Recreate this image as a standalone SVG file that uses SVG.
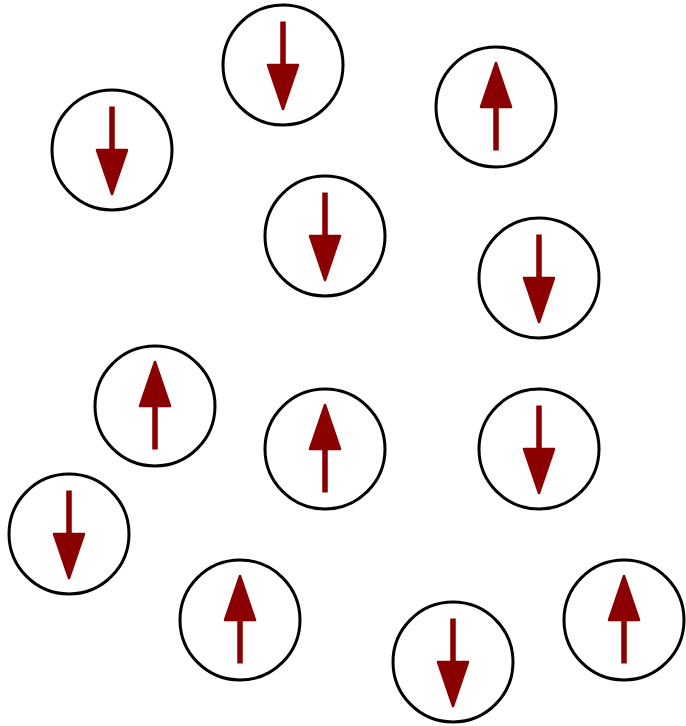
<svg xmlns="http://www.w3.org/2000/svg" xmlns:xlink="http://www.w3.org/1999/xlink" width="686" height="726" viewBox="0 0 686 726">
<style>
.c{fill:#fff;stroke:#000;stroke-width:3}
.a{fill:#8b0000;stroke:#8b0000}
</style>
<defs>
<g id="down">
<rect class="a" x="-2.2" y="-43" width="4.4" height="44" stroke-width="1"/>
<polygon class="a" points="-15,0 15,0 0,44" stroke-width="2.5" stroke-linejoin="round"/>
</g>
<g id="up"><use xlink:href="#down" transform="rotate(180)"/></g>
</defs>
<rect width="686" height="726" fill="#fff"/>
<g id="n1" transform="translate(283,65)"><circle class="c" r="60"/><use xlink:href="#down"/></g>
<g id="n2" transform="translate(112,150)"><circle class="c" r="60"/><use xlink:href="#down"/></g>
<g id="n3" transform="translate(496,107)"><circle class="c" r="60"/><use xlink:href="#up"/></g>
<g id="n4" transform="translate(325,236)"><circle class="c" r="60"/><use xlink:href="#down"/></g>
<g id="n5" transform="translate(539,278)"><circle class="c" r="60"/><use xlink:href="#down"/></g>
<g id="n6" transform="translate(155,406)"><circle class="c" r="60"/><use xlink:href="#up"/></g>
<g id="n7" transform="translate(325,449)"><circle class="c" r="60"/><use xlink:href="#up"/></g>
<g id="n8" transform="translate(539,449)"><circle class="c" r="60"/><use xlink:href="#down"/></g>
<g id="n9" transform="translate(69,534)"><circle class="c" r="60"/><use xlink:href="#down"/></g>
<g id="n10" transform="translate(240,620)"><circle class="c" r="60"/><use xlink:href="#up"/></g>
<g id="n11" transform="translate(453,662)"><circle class="c" r="60"/><use xlink:href="#down"/></g>
<g id="n12" transform="translate(624,620)"><circle class="c" r="60"/><use xlink:href="#up"/></g>
<g id="connectors"/>
</svg>
